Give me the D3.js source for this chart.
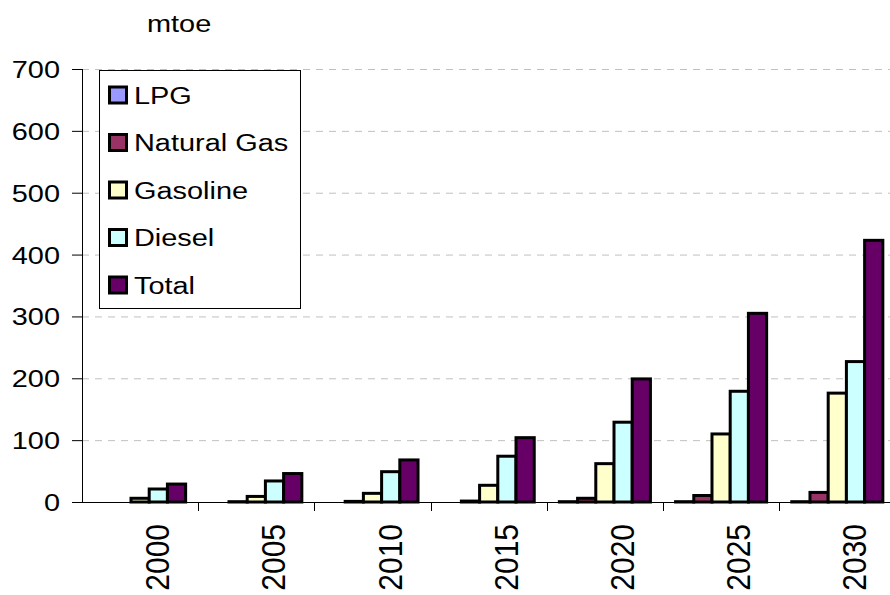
<!DOCTYPE html>
<html>
<head>
<meta charset="utf-8">
<script src="https://cdn.jsdelivr.net/npm/d3@7"></script>
<style>
  html, body { margin: 0; padding: 0; background: #fff; }
  svg { display: block; font-family: "Liberation Sans", Arial, sans-serif; }
</style>
</head>
<body>
<svg id="chart" width="890" height="595"></svg>
<script>
// ---- data ----
const years = ["2000", "2005", "2010", "2015", "2020", "2025", "2030"];
const seriesNames = ["LPG", "Natural Gas", "Gasoline", "Diesel", "Total"];
const lpg        = [null, null, null, null, 0.5, 0.5, 0.5];
const naturalGas = [null, 0.5, 1, 1.5, 6, 10.5, 15.5];
const gasoline   = [6, 9, 14, 27, 62, 110, 176];
const diesel     = [21, 34, 49, 74, 129, 179, 227];
const total      = [29, 46, 68, 104, 199, 305, 423];
const yTicks     = [0, 100, 200, 300, 400, 500, 600, 700];
const unitLabel  = "mtoe";
const colors     = ["#9999FF", "#993366", "#FFFFCC", "#CCFFFF", "#660066"];

const seriesValues = [lpg, naturalGas, gasoline, diesel, total];

// ---- layout ----
const svg = d3.select("#chart");
const plotLeft = 82, plotTop = 69, plotBottom = 502, catW = 116.2;
const plotRight = plotLeft + catW * years.length;

const x0 = d3.scaleBand().domain(years).range([plotLeft, plotRight]).padding(0);
const x1 = d3.scaleBand().domain(seriesNames).range([0, x0.bandwidth()])
  .paddingInner(0).paddingOuter(0.69);
const y = d3.scaleLinear().domain([0, 700]).range([plotBottom, plotTop]);

const hScale = 1.23;

// gridlines
svg.append("g").selectAll("line")
  .data(yTicks.filter(d => d > 0))
  .join("line")
  .attr("x1", plotLeft).attr("x2", plotRight)
  .attr("y1", d => y(d) + 0.5).attr("y2", d => y(d) + 0.5)
  .attr("stroke", "#c0c0c0").attr("stroke-width", 1)
  .attr("stroke-dasharray", "7,6");

// y axis
const yAxis = svg.append("g");
yAxis.append("line")
  .attr("x1", plotLeft + 0.5).attr("x2", plotLeft + 0.5)
  .attr("y1", y(700)).attr("y2", plotBottom + 0.5)
  .attr("stroke", "#000");
yAxis.selectAll("line.tick")
  .data(yTicks).join("line").attr("class", "tick")
  .attr("x1", plotLeft - 10).attr("x2", plotLeft)
  .attr("y1", d => y(d) + 0.5).attr("y2", d => y(d) + 0.5)
  .attr("stroke", "#000");
yAxis.selectAll("text")
  .data(yTicks).join("text")
  .attr("transform", d => `translate(60,${y(d) + 9}) scale(${hScale},1)`)
  .attr("text-anchor", "end")
  .attr("font-size", 23.5)
  .attr("fill", "#000")
  .text(d => d);

// unit label
svg.append("text")
  .attr("transform", `translate(147,31.5) scale(${hScale},1)`)
  .attr("font-size", 23.5)
  .attr("fill", "#000")
  .text(unitLabel);

// x axis
const xAxis = svg.append("g");
xAxis.append("line")
  .attr("x1", plotLeft).attr("x2", plotRight)
  .attr("y1", plotBottom + 0.5).attr("y2", plotBottom + 0.5)
  .attr("stroke", "#000");
xAxis.selectAll("line.tick")
  .data(years.slice(1)).join("line").attr("class", "tick")
  .attr("x1", d => Math.round(x0(d)) + 0.5).attr("x2", d => Math.round(x0(d)) + 0.5)
  .attr("y1", plotBottom).attr("y2", plotBottom + 9)
  .attr("stroke", "#000");
xAxis.selectAll("text")
  .data(years).join("text")
  .attr("transform", d => `translate(${x0(d) + x0.bandwidth() / 2 + 29},524) scale(1.1,1) rotate(-90)`)
  .attr("text-anchor", "end")
  .attr("font-size", 30)
  .attr("fill", "#000")
  .text(d => d);

// bars
const barData = [];
years.forEach((yr, i) => {
  seriesNames.forEach((s, j) => {
    const v = seriesValues[j][i];
    if (v !== null && v !== undefined) barData.push({ yr, s, v, c: colors[j] });
  });
});
svg.append("g").selectAll("rect")
  .data(barData).join("rect")
  .attr("x", d => x0(d.yr) + x1(d.s))
  .attr("width", x1.bandwidth())
  .attr("y", d => y(d.v))
  .attr("height", d => plotBottom - y(d.v))
  .attr("fill", d => d.c)
  .attr("stroke", "#000")
  .attr("stroke-width", 3)
  .attr("stroke-linejoin", "miter");

// legend
const lg = svg.append("g");
lg.append("rect")
  .attr("x", 99.5).attr("y", 70.5).attr("width", 201).attr("height", 238)
  .attr("fill", "#fff").attr("stroke", "#000").attr("stroke-width", 1);
const legendY = d3.scalePoint().domain(seriesNames).range([95, 285]);
const items = lg.selectAll("g.item").data(seriesNames).join("g").attr("class", "item");
items.append("rect")
  .attr("x", 109.5).attr("y", d => legendY(d) - 8)
  .attr("width", 17).attr("height", 16)
  .attr("fill", (d, i) => colors[i])
  .attr("stroke", "#000").attr("stroke-width", 3);
items.append("text")
  .attr("transform", d => `translate(134,${legendY(d) + 8.5}) scale(${hScale},1)`)
  .attr("font-size", 23.5)
  .attr("fill", "#000")
  .text(d => d);
</script>
</body>
</html>
